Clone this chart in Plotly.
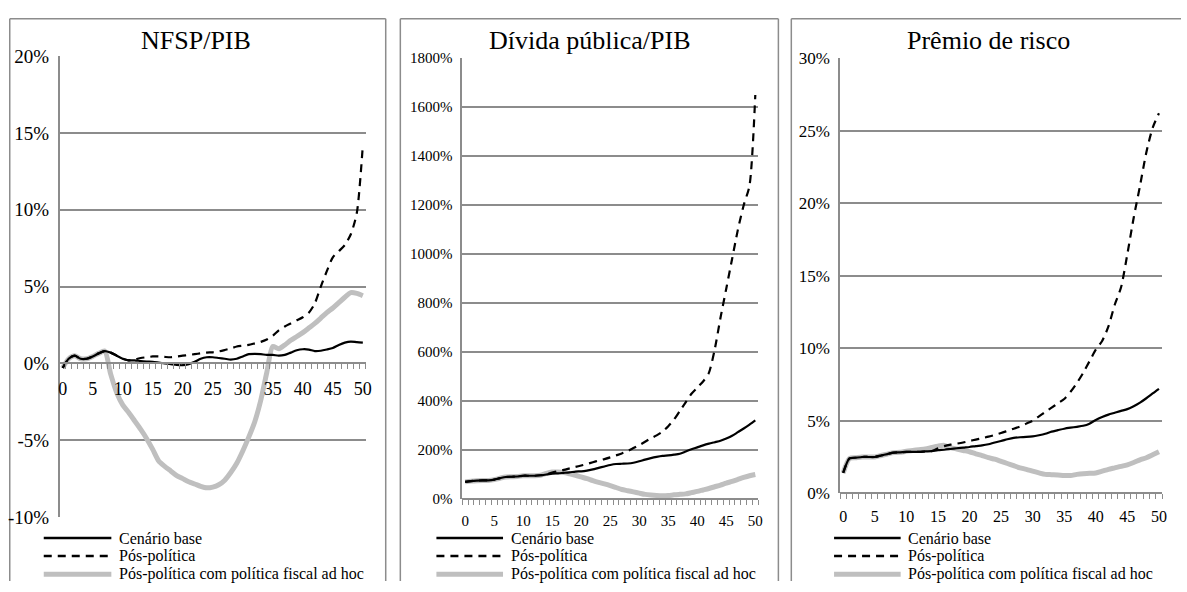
import plotly.graph_objects as go

# ---------------- data ----------------
periods = list(range(51))
x_tick_vals = [0, 5, 10, 15, 20, 25, 30, 35, 40, 45, 50]
x_tick_text = ["0", "5", "10", "15", "20", "25", "30", "35", "40", "45", "50"]

titles = ["NFSP/PIB", "Dívida pública/PIB", "Prêmio de risco"]
series_names = ["Cenário base", "Pós-política", "Pós-política com política fiscal ad hoc"]

# Panel 1: NFSP/PIB (%)
nfsp_base = [-0.3, 0.3, 0.5, 0.3, 0.3, 0.45, 0.65, 0.8, 0.7, 0.5, 0.3,
             0.2, 0.2, 0.15, 0.12, 0.1, 0.05, 0.0, -0.05, -0.1, -0.12,
             -0.05, 0.1, 0.3, 0.4, 0.4, 0.35, 0.3, 0.25, 0.3, 0.45,
             0.6, 0.62, 0.6, 0.55, 0.55, 0.5, 0.55, 0.7, 0.85, 0.92,
             0.9, 0.8, 0.82, 0.9, 1.0, 1.2, 1.35, 1.42, 1.38, 1.35]
nfsp_pos = [-0.3, 0.3, 0.5, 0.3, 0.3, 0.45, 0.65, 0.8, 0.7, 0.5, 0.3,
            0.2, 0.25, 0.35, 0.4, 0.45, 0.45, 0.42, 0.4, 0.45, 0.5,
            0.55, 0.6, 0.65, 0.7, 0.72, 0.78, 0.87, 0.97, 1.1, 1.15,
            1.2, 1.3, 1.4, 1.55, 1.8, 2.15, 2.4, 2.6, 2.8, 3.0,
            3.3, 3.9, 5.0, 6.0, 6.9, 7.3, 7.7, 8.4, 9.8, 14.2]
nfsp_adhoc = [-0.3, 0.3, 0.5, 0.3, 0.3, 0.45, 0.65, 0.8, -0.7, -1.9, -2.7,
              -3.2, -3.75, -4.3, -4.9, -5.6, -6.35, -6.7, -7.0, -7.3, -7.5,
              -7.7, -7.85, -8.0, -8.1, -8.05, -7.9, -7.6, -7.1, -6.5, -5.7,
              -4.8, -3.8, -2.4, -0.6, 1.1, 0.95, 1.2, 1.5, 1.75, 2.0,
              2.3, 2.6, 2.95, 3.3, 3.6, 3.95, 4.3, 4.6, 4.55, 4.4]

# Panel 2: Dívida pública/PIB (%)
divida_base = [70, 73, 75, 76, 76, 79, 85, 90, 91, 92, 95,
               95, 95, 97, 100, 104, 105, 107, 109, 112, 113,
               116, 121, 127, 133, 139, 143, 144, 145, 148, 154,
               161, 167, 172, 176, 178, 181, 185, 194, 203, 211,
               219, 226, 232, 238, 247, 258, 273, 288, 304, 321]
divida_pos = [70, 73, 75, 76, 76, 79, 85, 90, 91, 92, 95,
              95, 95, 97, 100, 108, 114, 119, 125, 131, 137,
              143, 150, 157, 163, 170, 178, 186, 196, 208, 220,
              234, 248, 260, 275, 297, 325, 360, 395, 430, 455,
              480, 515, 610, 740, 860, 980, 1100, 1200, 1280, 1650]
divida_adhoc = [70, 73, 75, 76, 76, 79, 85, 90, 91, 92, 95,
                95, 95, 97, 105, 110, 110, 108, 103, 97, 90,
                83, 75, 68, 62, 55, 47, 39, 34, 29, 24,
                19, 16, 14, 13, 14, 17, 19, 21, 26, 31,
                37, 43, 50, 57, 65, 72, 80, 88, 95, 100]

# Panel 3: Prêmio de risco (%)
premio_base = [1.4, 2.4, 2.45, 2.5, 2.5, 2.5, 2.6, 2.7, 2.8, 2.82, 2.85,
               2.85, 2.85, 2.88, 2.9, 2.97, 3.0, 3.05, 3.1, 3.15, 3.19,
               3.25, 3.3, 3.38, 3.5, 3.6, 3.72, 3.82, 3.86, 3.88, 3.92,
               4.0, 4.1, 4.25, 4.35, 4.45, 4.52, 4.58, 4.65, 4.8, 5.05,
               5.25, 5.42, 5.55, 5.68, 5.8, 6.0, 6.25, 6.55, 6.88, 7.2]
premio_pos = [1.4, 2.4, 2.45, 2.5, 2.5, 2.5, 2.6, 2.7, 2.8, 2.82, 2.85,
              2.85, 2.85, 2.88, 2.9, 3.1, 3.25, 3.35, 3.42, 3.5, 3.6,
              3.7, 3.8, 3.9, 4.02, 4.15, 4.3, 4.45, 4.6, 4.8, 5.0,
              5.3, 5.6, 5.9, 6.2, 6.5, 7.0, 7.6, 8.3, 9.1, 9.9,
              10.5, 11.5, 13.0, 14.2, 16.5, 19.0, 21.2, 23.5, 25.2, 26.2]
premio_adhoc = [1.4, 2.4, 2.45, 2.5, 2.5, 2.5, 2.6, 2.7, 2.8, 2.82, 2.9,
                2.95, 3.0, 3.05, 3.15, 3.25, 3.3, 3.15, 3.05, 2.95, 2.86,
                2.72, 2.6, 2.45, 2.35, 2.2, 2.05, 1.9, 1.75, 1.65, 1.52,
                1.4, 1.3, 1.28, 1.26, 1.23, 1.22, 1.3, 1.35, 1.37, 1.4,
                1.52, 1.65, 1.75, 1.85, 1.96, 2.12, 2.3, 2.45, 2.65, 2.86]

y_ranges = [[-10, 20], [0, 1800], [0, 30]]
y_tick_vals = [[-10, -5, 0, 5, 10, 15, 20],
               [0, 200, 400, 600, 800, 1000, 1200, 1400, 1600, 1800],
               [0, 5, 10, 15, 20, 25, 30]]
y_tick_text = [["-10%", "-5%", "0%", "5%", "10%", "15%", "20%"],
               ["0%", "200%", "400%", "600%", "800%", "1000%", "1200%", "1400%", "1600%", "1800%"],
               ["0%", "5%", "10%", "15%", "20%", "25%", "30%"]]

panels = [
    (nfsp_base, nfsp_pos, nfsp_adhoc),
    (divida_base, divida_pos, divida_adhoc),
    (premio_base, premio_pos, premio_adhoc),
]

# ---------------- layout geometry (pixels) ----------------
W, H = 1187, 592
def px(x):
    return min(max(x / W, 0.0), 1.0)
def py(y):
    return min(max(1 - y / H, 0.0), 1.0)

plot_boxes = [  # left, right, top, bottom in px
    (59, 367, 47.7, 525.7),
    (464, 761.7, 50, 507),
    (844, 1168, 50, 501),
]
frames = [(8.8, 387), (401.7, 782), (795, None)]   # None: right edge outside picture
FRAME_TOP = 9
title_x = [196, 591.7, 993.5]
legend_line_x = [(43, 111), (438, 505), (838, 905)]
legend_text_x = [117, 511, 910]
legend_rows_y = [547.5, 566, 585]
y_font_sizes = [19, 15, 17]
x_font_sizes = [18, 15, 16]
x_standoff = [9, 8, 9]

GRID = "#8c8c8c"
GRAY_SERIES = "#bfbfbf"
FONT = "Liberation Serif, Times New Roman, serif"
DASH = "8px,6px"

fig = go.Figure()
shapes = []
annotations = []

for i, (base, pos, adhoc) in enumerate(panels):
    n = "" if i == 0 else str(i + 1)
    xa, ya = "x" + n, "y" + n
    common = dict(x=periods, xaxis=xa, yaxis=ya, mode="lines", showlegend=False,
                  line_shape="spline")
    fig.add_trace(go.Scatter(y=adhoc, name=series_names[2],
                             line=dict(color=GRAY_SERIES, width=5, smoothing=0.7), **common))
    fig.add_trace(go.Scatter(y=pos, name=series_names[1],
                             line=dict(color="black", width=2.2, dash=DASH, smoothing=0.7), **common))
    fig.add_trace(go.Scatter(y=base, name=series_names[0],
                             line=dict(color="black", width=2.2, smoothing=0.7), **common))

    l, r, t, b = plot_boxes[i]
    ydom = [py(b), py(t)]
    y0, y1 = y_ranges[i]
    xpos = ydom[0] + (0 - y0) / (y1 - y0) * (ydom[1] - ydom[0])

    fig.update_layout(**{
        "xaxis" + n: dict(
            domain=[px(l), px(r)], range=[-0.5, 50.5],
            anchor="free", position=xpos,
            tickmode="array", tickvals=x_tick_vals, ticktext=x_tick_text,
            ticks="", showgrid=False, zeroline=False,
            showline=True, linecolor=GRID, linewidth=1.5,
            ticklabelstandoff=x_standoff[i],
            tickfont=dict(family=FONT, size=x_font_sizes[i], color="black"),
            minor=dict(tickmode="linear", tick0=-0.5, dtick=1, ticks="outside",
                       ticklen=5, tickwidth=1.3, tickcolor=GRID, showgrid=False),
            fixedrange=True,
        ),
        "yaxis" + n: dict(
            domain=ydom, range=[y0, y1], anchor=xa,
            tickmode="array", tickvals=y_tick_vals[i], ticktext=y_tick_text[i],
            ticks="", showgrid=True, gridcolor=GRID, gridwidth=1.5,
            zeroline=False, showline=True, linecolor=GRID, linewidth=1.5,
            ticklabelstandoff=5,
            tickfont=dict(family=FONT, size=y_font_sizes[i], color="black"),
            fixedrange=True,
        ),
    })

    # panel frame (open at the bottom / right where it leaves the picture)
    fl, fr = frames[i]
    frame_line = dict(color=GRID, width=1.5)
    right = fr if fr is not None else W
    shapes.append(dict(type="line", xref="paper", yref="paper", layer="below",
                       x0=px(fl), x1=px(right), y0=py(FRAME_TOP), y1=py(FRAME_TOP), line=frame_line))
    shapes.append(dict(type="line", xref="paper", yref="paper", layer="below",
                       x0=px(fl), x1=px(fl), y0=py(FRAME_TOP), y1=0, line=frame_line))
    if fr is not None:
        shapes.append(dict(type="line", xref="paper", yref="paper", layer="below",
                           x0=px(fr), x1=px(fr), y0=py(FRAME_TOP), y1=0, line=frame_line))
    # title
    annotations.append(dict(text=titles[i], x=px(title_x[i]), y=py(32), xref="paper", yref="paper",
                            xanchor="center", yanchor="middle", showarrow=False,
                            font=dict(family=FONT, size=26, color="black")))
    # manual legend
    lx0, lx1 = legend_line_x[i]
    styles = [dict(color="black", width=2.5),
              dict(color="black", width=2.5, dash=DASH),
              dict(color=GRAY_SERIES, width=5)]
    for k in range(3):
        yy = py(legend_rows_y[k])
        shapes.append(dict(type="line", xref="paper", yref="paper",
                           x0=px(lx0), x1=px(lx1), y0=yy, y1=yy, line=styles[k]))
        annotations.append(dict(text=series_names[k], x=px(legend_text_x[i]), y=yy,
                                xref="paper", yref="paper", xanchor="left", yanchor="middle",
                                showarrow=False, font=dict(family=FONT, size=16, color="black")))

fig.update_layout(
    width=W, height=H,
    margin=dict(l=0, r=0, t=0, b=0),
    paper_bgcolor="white", plot_bgcolor="white",
    shapes=shapes, annotations=annotations,
    showlegend=False,
)

# Remove the default page margin right away (not only after the plot promise),
# so the 1187x592 figure fills the 1187x592 window exactly.
page_fix = ("}); document.documentElement.style.margin='0'; "
            "document.body.style.margin='0'; document.body.style.overflow='hidden'; "
            "(function(){")
fig.write_html("out.html", post_script=page_fix, config={"displayModeBar": False})
